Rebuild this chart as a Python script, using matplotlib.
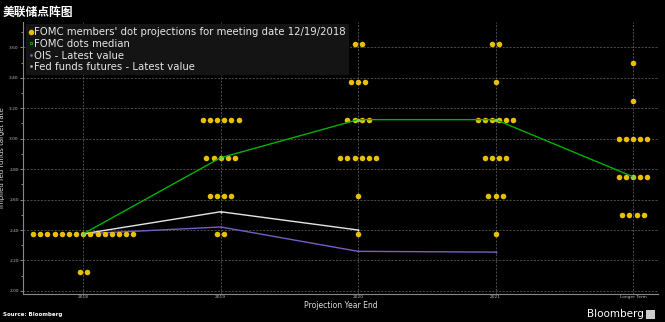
import numpy as np
import matplotlib
matplotlib.use("Agg")
import matplotlib.pyplot as plt
from matplotlib.lines import Line2D

plt.rcParams['font.family'] = ['DejaVu Sans', 'Noto Sans CJK SC']

# ------------------------------------------------------------
# data
# ------------------------------------------------------------
columns = ["2018", "2019", "2020", "2021", "Longer Term"]

# (rate, number of members) for each projection column
dots_2018 = [(2.375, 15), (2.125, 2)]
dots_2019 = [(3.125, 6), (2.875, 5), (2.625, 4), (2.375, 2)]
dots_2020 = [(3.625, 2), (3.375, 3), (3.125, 4), (2.875, 6), (2.625, 1), (2.375, 1)]
dots_2021 = [(3.625, 2), (3.375, 1), (3.125, 6), (2.875, 4), (2.625, 3), (2.375, 1)]
dots_longer = [(3.50, 1), (3.25, 1), (3.00, 5), (2.75, 5), (2.50, 4)]
dot_columns = [dots_2018, dots_2019, dots_2020, dots_2021, dots_longer]

median = [2.375, 2.875, 3.125, 3.125, 2.75]
ois = [2.375, 2.42, 2.26, 2.255]
futures = [2.375, 2.52, 2.40]

yticks = [2.00, 2.20, 2.40, 2.60, 2.80, 3.00, 3.20, 3.40, 3.60]

# ------------------------------------------------------------
# figure
# ------------------------------------------------------------
fig = plt.figure(figsize=(6.65, 3.22), dpi=100, facecolor="black")
ax = fig.add_axes([0.035, 0.088, 0.955, 0.844], facecolor="black")

gold = "#e8c000"
step = 0.052

for i, col in enumerate(dot_columns):
    for rate, n in col:
        xs = i + (np.arange(n) - (n - 1) / 2) * step
        ax.scatter(xs, [rate] * n, s=16, color=gold, zorder=4, linewidths=0)

x = np.arange(len(columns))
ax.plot(x, median, color="#00b300", linewidth=1.0, zorder=5,
        marker="o", markersize=2.5, markerfacecolor="#7fd35a",
        markeredgewidth=0)
ax.plot(x[:len(ois)], ois, color="#7b5cc4", linewidth=1.0, zorder=3,
        marker="o", markersize=1.5, markeredgewidth=0)
ax.plot(x[:len(futures)], futures, color="#e6e6e6", linewidth=1.0, zorder=3,
        marker="o", markersize=1.5, markeredgewidth=0)

# axes
ax.set_xlim(-0.436, 4.184)
ax.set_ylim(1.982, 3.767)
ax.set_xticks(x)
ax.set_xticklabels(columns)
ax.set_yticks(yticks)
ax.set_yticklabels([f"{v:.2f}" for v in yticks])
ax.set_yticks(np.arange(2.1, 3.75, 0.2), minor=True)

ax.tick_params(axis="both", colors="#bbbbbb", labelsize=3.2, length=2,
               width=0.5, pad=1.2)
ax.tick_params(axis="x", length=0)
ax.tick_params(axis="y", which="minor", colors="#bbbbbb", length=1.5,
               width=0.5)

for side in ["top", "right"]:
    ax.spines[side].set_visible(False)
for side in ["left", "bottom"]:
    ax.spines[side].set_color("#888888")
    ax.spines[side].set_linewidth(0.8)

ax.grid(True, which="major", color="#666666", linestyle=(0, (3, 2)),
        linewidth=0.5)
ax.set_axisbelow(True)

ax.set_ylabel("Implied fed funds target rate", color="#dddddd", fontsize=5)
ax.yaxis.set_label_coords(-0.029, 0.5)
ax.set_xlabel("Projection Year End", color="#dddddd", fontsize=5.5,
              labelpad=1)

# legend
handles = [
    Line2D([], [], linestyle="none", marker="o", markersize=4,
           markerfacecolor=gold, markeredgewidth=0),
    Line2D([], [], linestyle="none", marker="s", markersize=2,
           markerfacecolor="none", markeredgecolor="#00b300",
           markeredgewidth=0.6),
    Line2D([], [], linestyle="none", marker="o", markersize=2,
           markerfacecolor="#7b5cc4", markeredgewidth=0),
    Line2D([], [], linestyle="none", marker="o", markersize=2,
           markerfacecolor="#aaaaaa", markeredgewidth=0),
]
labels = [
    "FOMC members' dot projections for meeting date 12/19/2018",
    "FOMC dots median",
    "OIS - Latest value",
    "Fed funds futures - Latest value",
]
leg = ax.legend(handles, labels, loc="upper left", bbox_to_anchor=(0.0, 1.0),
                fontsize=7.3, frameon=True, fancybox=False, borderpad=0.3,
                handlelength=0.4, handletextpad=0.15, labelspacing=0.15,
                borderaxespad=0.25)
leg.get_frame().set_facecolor("#141414")
leg.get_frame().set_edgecolor("none")
leg.get_frame().set_alpha(1)
for t in leg.get_texts():
    t.set_color("#e6e6e6")

# title and footer
fig.text(0.004, 0.962, "美联储点阵图", color="white", fontsize=8.5,
         fontweight="bold", family=["Noto Sans CJK SC", "DejaVu Sans"],
         va="center", ha="left")
fig.text(0.004, 0.022, "Source: Bloomberg", color="white", fontsize=4,
         fontweight="bold", va="center", ha="left")
fig.text(0.968, 0.024, "Bloomberg", color="white", fontsize=7.5,
         va="center", ha="right")
fig.patches.append(plt.Rectangle((0.972, 0.01), 0.013, 0.028,
                                 transform=fig.transFigure,
                                 facecolor="#cccccc", edgecolor="none"))

fig.savefig("out.png", dpi=100, facecolor="black")
